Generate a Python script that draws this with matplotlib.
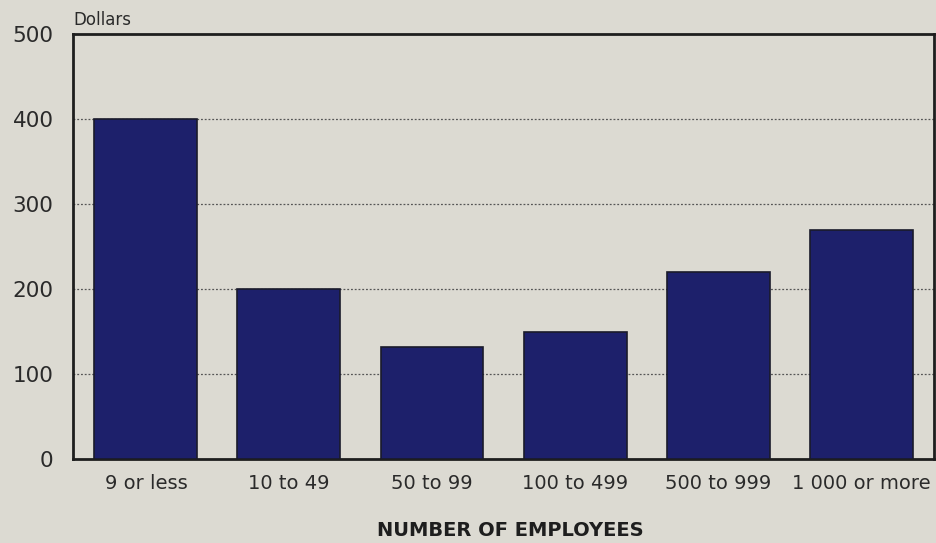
import matplotlib.pyplot as plt
import numpy as np

plt.rcParams['font.family'] = ['DejaVu Sans']

categories = ['9 or less', '10 to 49', '50 to 99', '100 to 499', '500 to 999', '1 000 or more']
dollars = [400, 200, 132, 150, 220, 270]
yticks = [0, 100, 200, 300, 400, 500]

bg = '#dcdad2'
navy = '#1d206b'

fig = plt.figure(figsize=(9.37, 5.43), dpi=100, facecolor=bg)
ax = fig.add_axes([73 / 937, 1 - 459 / 543, (934 - 73) / 937, (459 - 34) / 543])
ax.set_facecolor(bg)

x = np.arange(len(categories))
ax.bar(x, dollars, width=0.72, color=navy, edgecolor='#1a1a2a', linewidth=1.2, zorder=3)

ax.set_xlim(-0.51, len(categories) - 0.49)
ax.set_ylim(0, 500)
ax.set_yticks(yticks)
ax.set_yticklabels([str(v) for v in yticks])
ax.set_xticks(x)
ax.set_xticklabels(categories)

# dotted reference lines between the bars
for v in yticks[1:-1]:
    ax.axhline(v, color='#555555', linestyle=(0, (1.5, 1.5)), linewidth=0.9, zorder=1)

for s in ax.spines.values():
    s.set_linewidth(2)
    s.set_color('#1e1e1e')

ax.tick_params(axis='y', length=0, pad=14, labelsize=15.5, labelcolor='#2a2a2a')
ax.tick_params(axis='x', length=0, pad=11, labelsize=14, labelcolor='#2a2a2a')

fig.text(73 / 937, 1 - 20 / 543, 'Dollars', fontsize=12, color='#2a2a2a', va='center', ha='left')
fig.text(510 / 937, 1 - 530 / 543, 'NUMBER OF EMPLOYEES', fontsize=14,
         fontweight='bold', color='#1e1e1e', ha='center', va='center')

fig.savefig('out.png', dpi=100, facecolor=bg)
